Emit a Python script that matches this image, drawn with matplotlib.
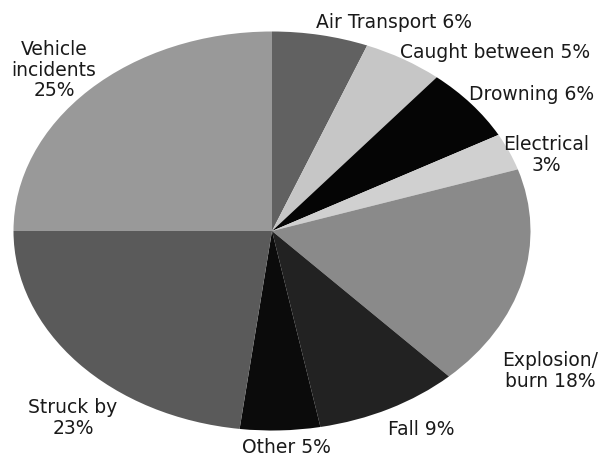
import matplotlib
matplotlib.use("Agg")
import matplotlib.pyplot as plt

categories = ["Air Transport", "Caught between", "Drowning", "Electrical",
              "Explosion/burn", "Fall", "Other", "Struck by", "Vehicle incidents"]
values = [6, 5, 6, 3, 18, 9, 5, 23, 25]
colors = ["#616161", "#c6c6c6", "#050505", "#d0d0d0", "#8a8a8a",
          "#222222", "#0b0b0b", "#5a5a5a", "#999999"]
label_texts = ["Air Transport 6%", "Caught between 5%", "Drowning 6%", "Electrical\n3%",
               "Explosion/\nburn 18%", "Fall 9%", "Other 5%", "Struck by\n23%",
               "Vehicle\nincidents\n25%"]
# label centres in pixel coordinates (x, y from top)
label_pos = [(394, 23), (495, 52), (532, 95), (546, 155),
             (550, 371), (421, 430), (286, 448), (73, 418), (54, 70)]

W, H = 600, 456
fig = plt.figure(figsize=(W / 100, H / 100), dpi=100)
ax = fig.add_axes([0, 0, 1, 1])

ax.pie(values, colors=colors, startangle=90, counterclock=False,
       wedgeprops=dict(linewidth=0, edgecolor="none"))

# elliptical pie: centre (272, 232) px, semi-axes 258.5 x 199.5 px
cx, cy, rx, ry = 272, 232, 258.5, 199.5
ax.set_aspect("auto")
ax.set_xlim(-cx / rx, (W - cx) / rx)
ax.set_ylim(-(H - cy) / ry, cy / ry)
ax.axis("off")

for txt, (x, y) in zip(label_texts, label_pos):
    fig.text(x / W, 1 - y / H, txt, ha="center", va="center",
             fontsize=13.5, family=["DejaVu Sans"], fontweight="normal",
             color="#1a1a1a", linespacing=1.12)

fig.savefig("out.png", dpi=100, facecolor="white")
